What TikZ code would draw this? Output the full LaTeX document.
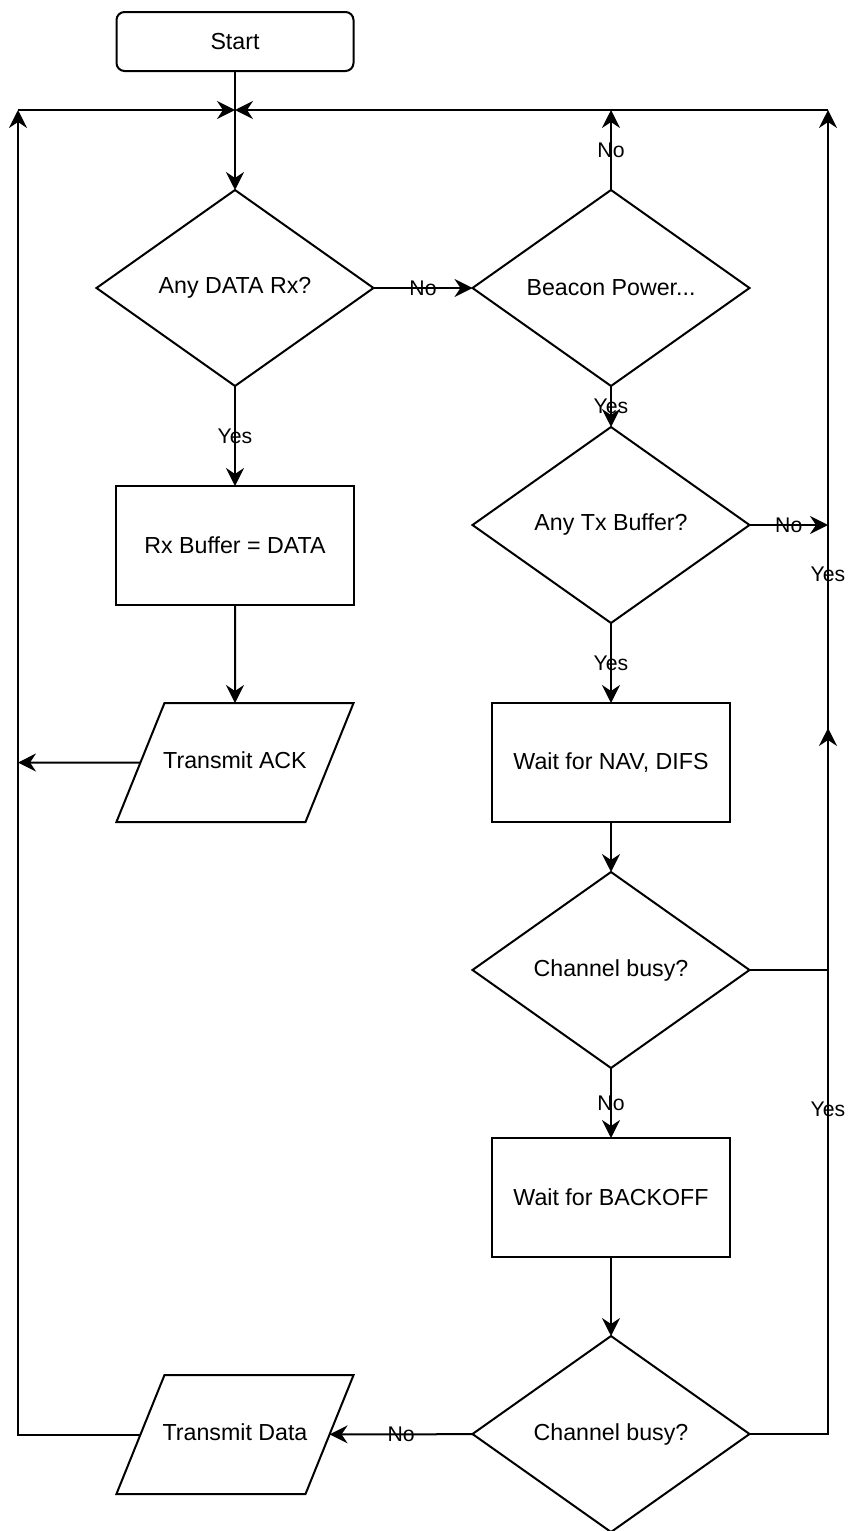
\documentclass[tikz,border=0pt]{standalone}
\usepackage{fontspec}
\setmainfont{Liberation Sans}
\usetikzlibrary{arrows.meta,positioning,shapes.geometric}

\begin{document}
\begin{tikzpicture}[
    x=0.5pt, y=-0.5pt,
    line width=1pt,
    font=\fontsize{11.6}{14}\selectfont,
    every node/.style={outer sep=0pt},
    box/.style={draw, minimum height=59.5pt, minimum width=119pt, align=center, inner sep=2pt},
    startbox/.style={box, rounded corners=4pt, minimum height=29.5pt, minimum width=118.5pt},
    decision/.style={draw, diamond, minimum width=138.5pt, minimum height=98pt, inner sep=0pt, align=center},
    io/.style={draw, trapezium, trapezium left angle=68, trapezium right angle=112, text height=8.4pt, text depth=2.4pt, inner xsep=0pt, inner ysep=24.35pt},
    arrow/.style={-{Stealth[length=9pt, width=9pt, inset=3pt]}},
    lbl/.style={font=\fontsize{10.6}{13}\selectfont, inner sep=0pt}
  ]
    \useasboundingbox (0,0) rectangle (847,1531);

    \node[startbox] (start) at (235,41.5) {Start};
    \node[decision, below=59.5pt of start] (anydata) {Any DATA Rx?};
    \node[decision, right=49.5pt of anydata] (beacon) {Beacon Power...};
    \node[box, below=50pt of anydata] (rxbuf) {Rx Buffer = DATA};
    \node[io, below=49pt of rxbuf] (ack) {\makebox[70.5pt]{Transmit ACK}};

    \node[decision, below=20.5pt of beacon] (txbuf) {Any Tx Buffer?};
    \node[box, below=40pt of txbuf] (nav) {Wait for NAV, DIFS};
    \node[decision, below=25pt of nav] (busya) {Channel busy?};
    \node[box, below=35pt of busya] (backoff) {Wait for BACKOFF};
    \node[decision, below=39.5pt of backoff] (busyb) {Channel busy?};
    \node[io] (txdata) at (235,1434.5) {\makebox[70.5pt]{Transmit Data}};

    \coordinate (join) at (235,110);
    \coordinate (topleft) at (18,110);
    \coordinate (topright) at (828,110);
    \coordinate (beaconup) at (beacon |- join);
    \coordinate (txno) at (topright |- txbuf);
    \coordinate (busyup) at (828,728);
    \coordinate (ackleft) at (topleft |- ack);

    \draw[arrow] (start) -- (anydata);
    \draw[arrow] (anydata) -- node[lbl] {No} (beacon);
    \draw[arrow] (anydata) -- node[lbl] {Yes} (rxbuf);
    \draw[arrow] (rxbuf) -- (ack);
    \draw[arrow] (ack) -- (ackleft);

    \draw[arrow] (beacon) -- node[lbl] {No} (beaconup);
    \draw[arrow] (beacon) -- node[lbl] {Yes} (txbuf);
    \draw[arrow] (txbuf) -- node[lbl] {No} (txno);
    \draw[arrow] (txbuf) -- node[lbl] {Yes} (nav);
    \draw[arrow] (nav) -- (busya);
    \draw[arrow] (busya) -- node[lbl] {No} (backoff);
    \draw[arrow] (busya) -| node[lbl, pos=.73] {Yes} (topright);
    \draw[arrow] (backoff) -- (busyb);
    \draw[arrow] (busyb) -| node[lbl, pos=.73] {Yes} (busyup);
    \draw[arrow] (busyb) -- node[lbl] {No} (txdata);
    \draw[arrow] (txdata) -| (topleft);

    \draw[arrow] (topleft) -- (join);
    \draw[arrow] (topright) -- (join);
  \end{tikzpicture}
\end{document}
